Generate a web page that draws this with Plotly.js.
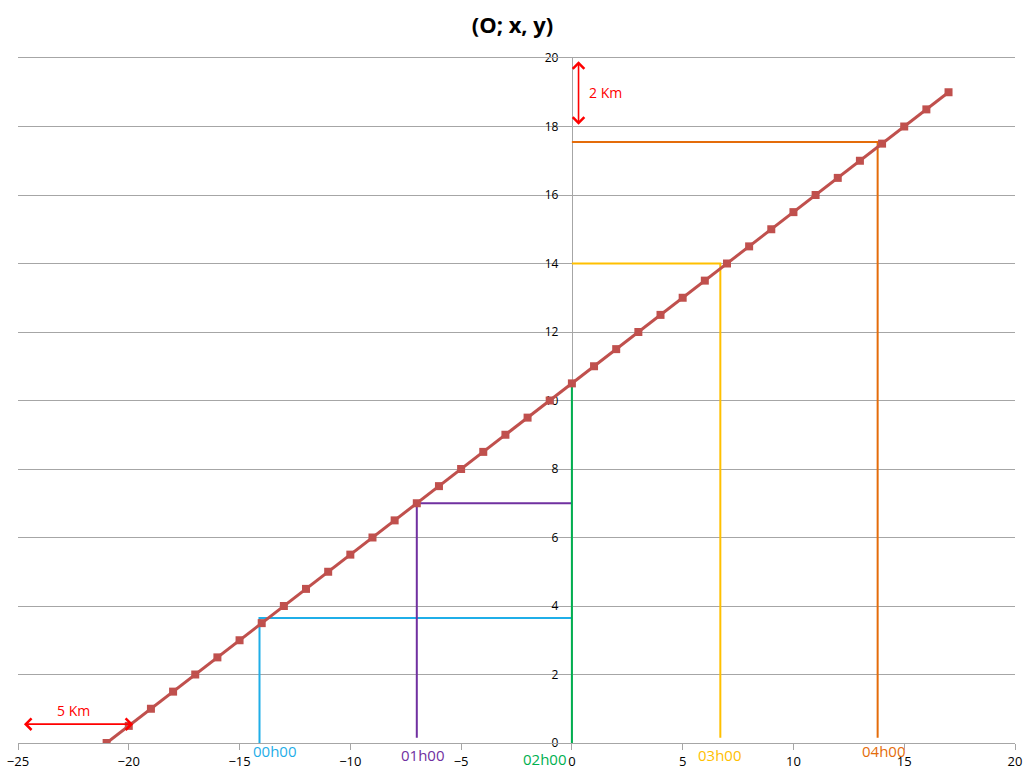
<!DOCTYPE html>
<html>
<head>
<meta charset="utf-8">
<script src="https://cdn.plot.ly/plotly-3.0.1.min.js"></script>
<style>html,body{margin:0;padding:0;background:#fff;}#chart{width:1025px;height:775px;}</style>
</head>
<body>
<div id="chart"></div>
<script>
// Main series
const pathX = [-21,-20,-19,-18,-17,-16,-15,-14,-13,-12,-11,-10,-9,-8,-7,-6,-5,-4,-3,-2,-1,0,1,2,3,4,5,6,7,8,9,10,11,12,13,14,15,16,17];
const pathY = [0,0.5,1,1.5,2,2.5,3,3.5,4,4.5,5,5.5,6,6.5,7,7.5,8,8.5,9,9.5,10,10.5,11,11.5,12,12.5,13,13.5,14,14.5,15,15.5,16,16.5,17,17.5,18,18.5,19];

// Hour guide lines
const hourLabels = ["00h00","01h00","02h00","03h00","04h00"];
const hourColors = ["#1FAEE8","#7030A0","#00B050","#FFC000","#E46C0A"];
const hourX = [-14.1, -7.0, 0, 6.7, 13.8];
const hourY = [3.65, 7.0, 10.45, 14.0, 17.55];
const hourBottom = [0, 0.15, 0, 0.15, 0.15];
const hourLabelX = [-13.4, -6.7, -1.2, 6.7, 14.1];
const hourLabelY = [-0.012, -0.018, -0.023, -0.018, -0.012]; // paper units below the x axis

const traces = [];
for (let i = 0; i < hourX.length; i++) {
  traces.push({
    x: [hourX[i], hourX[i], 0],
    y: [hourBottom[i], hourY[i], hourY[i]],
    mode: 'lines', type: 'scatter',
    line: {color: hourColors[i], width: 2},
    hoverinfo: 'skip', showlegend: false
  });
}
traces.push({
  x: pathX, y: pathY, mode: 'lines+markers', type: 'scatter',
  line: {color: '#C0504D', width: 3},
  marker: {symbol: 'square', size: 8, color: '#C0504D'},
  showlegend: false
});

const annotations = [];
for (let i = 0; i < hourLabels.length; i++) {
  annotations.push({
    x: hourLabelX[i], y: hourLabelY[i], xref: 'x', yref: 'paper', yanchor: 'middle',
    text: hourLabels[i], showarrow: false,
    font: {color: hourColors[i], size: 15, family: 'Open Sans, sans-serif'}
  });
}
// scale arrows
annotations.push({x: -19.8, y: 0.55, ax: -24.8, ay: 0.55, xref: 'x', yref: 'y', axref: 'x', ayref: 'y',
  text: '', showarrow: true, arrowhead: 4, arrowside: 'end+start', arrowwidth: 1.6, arrowsize: 1.4, arrowcolor: '#FF0000'});
annotations.push({x: -22.5, y: 0.95, xref: 'x', yref: 'y', text: '5 Km', showarrow: false,
  font: {color: '#FF0000', size: 14, family: 'Open Sans, sans-serif'}});
annotations.push({x: 0.3, y: 18.05, ax: 0.3, ay: 19.95, xref: 'x', yref: 'y', axref: 'x', ayref: 'y',
  text: '', showarrow: true, arrowhead: 4, arrowside: 'end+start', arrowwidth: 1.6, arrowsize: 1.4, arrowcolor: '#FF0000'});
annotations.push({x: 1.5, y: 19.0, xref: 'x', yref: 'y', text: '2 Km', showarrow: false,
  font: {color: '#FF0000', size: 14, family: 'Open Sans, sans-serif'}});

const layout = {
  width: 1025, height: 775,
  margin: {l: 18, r: 10, t: 58, b: 32},
  paper_bgcolor: '#fff', plot_bgcolor: '#fff',
  title: {text: '<b>(O; x, y)</b>', x: 0.5, xanchor: 'center', y: 0.968, yanchor: 'middle',
    font: {size: 22, color: '#000', family: 'Open Sans, sans-serif'}},
  font: {family: 'Open Sans, sans-serif', size: 12, color: '#000'},
  xaxis: {range: [-25, 20], dtick: 5, tick0: 0, showgrid: false, zeroline: false,
    showline: true, mirror: true, linecolor: '#A6A6A6', linewidth: 1.2, ticks: 'outside', ticklen: 6, tickcolor: '#A6A6A6',
    tickfont: {size: 13}},
  yaxis: {range: [0, 20], dtick: 2, tick0: 0, showgrid: true, gridcolor: '#A6A6A6', gridwidth: 1,
    zeroline: false, showline: true, linecolor: '#A6A6A6', linewidth: 1.5, layer: 'below traces',
    anchor: 'free', position: 25/45, ticks: '', ticklabelstandoff: 11,
    tickfont: {size: 12}},
  annotations: annotations,
  showlegend: false
};
Plotly.newPlot('chart', traces, layout, {displayModeBar: false, staticPlot: true});
</script>
</body>
</html>
